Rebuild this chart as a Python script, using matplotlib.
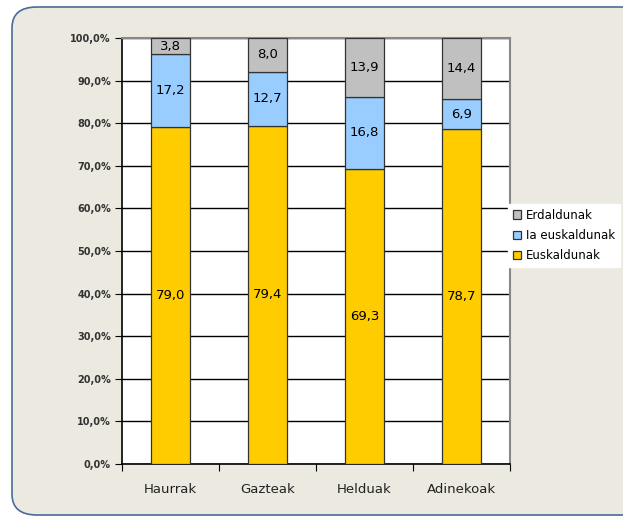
import numpy as np
import matplotlib.pyplot as plt
from matplotlib.patches import FancyBboxPatch

# data
groups = ["Haurrak", "Gazteak", "Helduak", "Adinekoak"]
euskaldunak = [79.0, 79.4, 69.3, 78.7]
ia_euskaldunak = [17.2, 12.7, 16.8, 6.9]
erdaldunak = [3.8, 8.0, 13.9, 14.4]

series = [
    ("Euskaldunak", euskaldunak, "#FFCC00"),
    ("Ia euskaldunak", ia_euskaldunak, "#99CCFF"),
    ("Erdaldunak", erdaldunak, "#C0C0C0"),
]

fig = plt.figure(figsize=(6.23, 5.19), dpi=100)
fig.patch.set_facecolor("white")

# rounded chart-area background
bg = FancyBboxPatch((12 / 623, 4 / 519), 640 / 623, 508 / 519,
                    boxstyle="round,pad=0,rounding_size=0.04",
                    transform=fig.transFigure, facecolor="#ECE9E0",
                    edgecolor="#4A6A9A", linewidth=1.2, zorder=-5)
fig.patches.append(bg)

ax = fig.add_axes([122 / 623, 1 - 464 / 519, 388 / 623, 426 / 519])
ax.set_zorder(1)
ax.set_facecolor("white")

x = np.arange(len(groups))
bottom = np.zeros(len(groups))
bars = {}
for name, vals, color in series:
    vals = np.array(vals)
    bars[name] = ax.bar(x, vals, width=0.4, bottom=bottom, color=color,
                        edgecolor="#333333", linewidth=0.9, label=name, zorder=3)
    for xi, b, v in zip(x, bottom, vals):
        ax.text(xi, b + v / 2, f"{v:.1f}".replace(".", ","), ha="center",
                va="center", fontsize=9.5, color="black", zorder=4)
    bottom = bottom + vals

ax.set_xlim(-0.5, len(groups) - 0.5)
ax.set_ylim(0, 100)
ticks = np.arange(0, 101, 10)
ax.set_yticks(ticks)
ax.set_yticklabels([f"{t:.1f}%".replace(".", ",") for t in ticks],
                   fontsize=7, fontweight="bold", color="#333333")
ax.set_xticks(np.arange(len(groups) + 1) - 0.5)
ax.set_xticklabels([])
ax.set_xticks(x, minor=True)
ax.set_xticklabels(groups, minor=True, fontsize=9.5, color="#222222")
ax.tick_params(axis="x", which="minor", length=0, pad=14)
ax.tick_params(axis="x", which="major", length=5, color="black")
ax.tick_params(axis="y", length=5, color="black", pad=3)
ax.yaxis.grid(True, color="black", linewidth=1.0, zorder=1)
ax.set_axisbelow(True)

for side in ["top", "right"]:
    ax.spines[side].set_color("#888888")
    ax.spines[side].set_linewidth(1.5)
for side in ["left", "bottom"]:
    ax.spines[side].set_color("black")
    ax.spines[side].set_linewidth(1.2)

handles = [bars["Erdaldunak"], bars["Ia euskaldunak"], bars["Euskaldunak"]]
labels = ["Erdaldunak", "Ia euskaldunak", "Euskaldunak"]
leg = fig.legend(handles, labels, loc="upper left",
                 bbox_to_anchor=(508 / 623, 1 - 204 / 519), fontsize=8.5,
                 frameon=True, fancybox=False, handlelength=0.7,
                 handleheight=0.7, handletextpad=0.4, labelspacing=0.6,
                 borderpad=0.4, borderaxespad=0)
leg.set_zorder(5)
leg.get_frame().set_facecolor("white")
leg.get_frame().set_edgecolor("white")
leg.get_frame().set_alpha(1)

fig.savefig("out.png", dpi=100, facecolor=fig.get_facecolor())
